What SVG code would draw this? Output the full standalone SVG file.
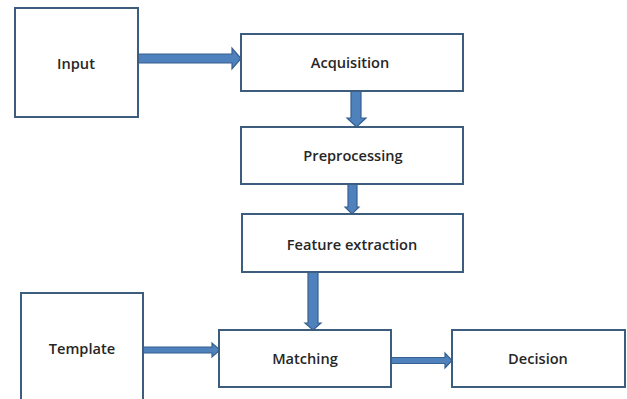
<svg xmlns="http://www.w3.org/2000/svg" width="627" height="399" viewBox="0 0 627 399">
  <style>
    .box { fill: #ffffff; stroke: #3d5d7e; stroke-width: 2; }
    .lbl { font-family: "Open Sans", "Liberation Sans", sans-serif; font-size: 14.6px; font-weight: 600; fill: #262626; text-anchor: middle; dominant-baseline: central; }
    .arr { fill: #4f81bd; stroke: #36608f; stroke-width: 1.2; stroke-linejoin: miter; }
  </style>
  <rect width="627" height="399" fill="#ffffff"/>

  <g id="connectors">
    <!-- Input -> Acquisition -->
    <path class="arr" d="M138,54 H232 V48 L241,58.5 L232,69 V63 H138 Z"/>
    <!-- Acquisition -> Preprocessing -->
    <path class="arr" d="M351,91 V118 H347 L356.5,127 L366,118 H361 V91 Z"/>
    <!-- Preprocessing -> Feature extraction -->
    <path class="arr" d="M348,184 V207 H345 L352,214 L359,207 H357 V184 Z"/>
    <!-- Feature extraction -> Matching -->
    <path class="arr" d="M308,272 V323 H305 L313,330 L321,323 H318 V272 Z"/>
    <!-- Template -> Matching -->
    <path class="arr" d="M143,347 H212 V343 L220,350 L212,357 V353 H143 Z"/>
    <!-- Matching -> Decision -->
    <path class="arr" d="M391,357.5 H445 V353 L452,360.5 L445,368 V363.5 H391 Z"/>
  </g>

  <g id="input">
    <rect class="box" x="15" y="8" width="123" height="109"/>
    <text class="lbl" x="76" y="63">Input</text>
  </g>
  <g id="acquisition">
    <rect class="box" x="241" y="34" width="222" height="57"/>
    <text class="lbl" x="350" y="62">Acquisition</text>
  </g>
  <g id="preprocessing">
    <rect class="box" x="241" y="127" width="222" height="57"/>
    <text class="lbl" x="353" y="155">Preprocessing</text>
  </g>
  <g id="feature-extraction">
    <rect class="box" x="242" y="214" width="221" height="58"/>
    <text class="lbl" x="352" y="244">Feature extraction</text>
  </g>
  <g id="template">
    <rect class="box" x="21" y="293" width="122" height="120"/>
    <text class="lbl" x="82" y="348">Template</text>
  </g>
  <g id="matching">
    <rect class="box" x="219" y="330" width="172" height="57"/>
    <text class="lbl" x="305" y="358">Matching</text>
  </g>
  <g id="decision">
    <rect class="box" x="452" y="330" width="173" height="57"/>
    <text class="lbl" x="538" y="358">Decision</text>
  </g>
</svg>
